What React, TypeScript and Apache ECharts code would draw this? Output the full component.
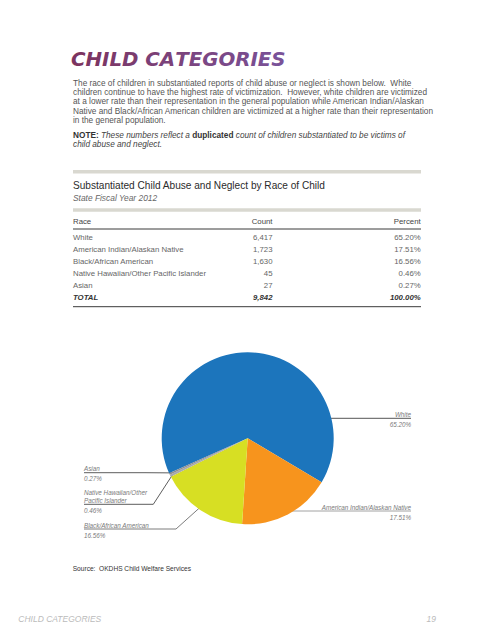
import React, { useEffect, useRef } from "react";
import * as echarts from "echarts";

// ---------- data ----------
const races = [
  "White",
  "American Indian/Alaskan Native",
  "Black/African American",
  "Native Hawaiian/Other Pacific Islander",
  "Asian",
];
const counts = [6417, 1723, 1630, 45, 27];
const percents = [65.2, 17.51, 16.56, 0.46, 0.27];
const totalCount = 9842;
const totalPercent = 100.0;
const pieLabelNames = [
  ["White"],
  ["American Indian/Alaskan Native"],
  ["Black/African American"],
  ["Native Hawaiian/Other", "Pacific Islander"],
  ["Asian"],
];
const sliceColors = ["#1C75BC", "#F7941D", "#D7DF23", "#A7A9AC", "#8C8E90"];

const titleText = "CHILD CATEGORIES";
const paragraphLines = [
  "The race of children in substantiated reports of child abuse or neglect is shown below.  White",
  "children continue to have the highest rate of victimization.  However, white children are victimized",
  "at a lower rate than their representation in the general population while American Indian/Alaskan",
  "Native and Black/African American children are victimized at a higher rate than their representation",
  "in the general population.",
];

// ---------- layout / style ----------
const FONT = "'Liberation Sans', Arial, Helvetica, sans-serif";
const CX = 247.7;
const CY = 438.3;
const R = 86;
const START_ANGLE = 204;
const LEFT_X = 84;
const RIGHT_X = 411;

// label placement per slice (annotation layout only)
const labelCfg = [
  { side: "right", lineY: 418.3, anchorDeg: 74.4, anchorR: 0.864, color: "#2a2a2a" },
  { side: "right", lineY: 511, anchorDeg: 156, anchorR: 0.925, color: "#8a8a8a" },
  { side: "left", lineY: 529, bendX: 176, anchorDeg: 211.7, anchorR: 0.806, color: "#5a5a5a" },
  { side: "left", lineY: 504.3, bendX: 153.3, anchorDeg: null, anchorR: 0.97, color: "#333333" },
  { side: "left", lineY: 472.7, bendX: 145, anchorDeg: null, anchorR: 0.97, color: "#333333" },
];

const NAME_LH = 8;
const PCT_LH = 12;

function fmtCount(v: number) {
  return v.toLocaleString("en-US");
}
function fmtPct(v: number) {
  return v.toFixed(2) + "%";
}

function sliceMidCompass(i: number) {
  const total = counts.reduce((a, b) => a + b, 0);
  let cum = 0;
  for (let k = 0; k < i; k++) cum += counts[k];
  const mid = cum + counts[i] / 2;
  const mathDeg = START_ANGLE - (mid / total) * 360;
  return 90 - mathDeg;
}

function polar(compassDeg: number, rf: number) {
  const a = (compassDeg * Math.PI) / 180;
  return [CX + Math.sin(a) * R * rf, CY - Math.cos(a) * R * rf];
}

function mix(c1: number[], c2: number[], t: number) {
  const c = c1.map((v, k) => Math.round(v + (c2[k] - v) * t));
  return "rgb(" + c.join(",") + ")";
}

export default function App() {
  const ref = useRef<HTMLDivElement>(null);

  useEffect(() => {
    if (!ref.current) return;
    const chart = echarts.init(ref.current, undefined, { renderer: "svg" });

    const graphics: any[] = [];
    const txt = (x: number, y: number, text: string, s: any) =>
      graphics.push({
        type: "text",
        x,
        y,
        silent: true,
        style: {
          text,
          fontFamily: FONT,
          fontSize: 7.5,
          fill: "#555",
          align: "left",
          verticalAlign: "middle",
          ...s,
        },
      });

    // title: per-character colour ramp (left plum -> right purple)
    const titleRich: any = {};
    const chars = titleText.split("");
    const tokens = chars.map((ch, k) => {
      const key = "t" + k;
      titleRich[key] = {
        fontFamily: "'DejaVu Sans', sans-serif",
        fontWeight: "bold",
        fontStyle: "italic",
        fontSize: 19.8,
        fill: mix([124, 52, 96], [122, 82, 152], k / (chars.length - 1)),
      };
      return "{" + key + "|" + ch + "}";
    });
    txt(71, 59.7, tokens.join(""), { rich: titleRich, fontSize: 19.8 });

    // paragraph
    const pFont = 8.25;
    const paraY = [83.3, 92.6, 101.9, 111.1, 120.4];
    paragraphLines.forEach((l, i) => txt(73, paraY[i], l, { fill: "#555", fontSize: pFont }));

    // note
    const noteRich = {
      b: { fontFamily: FONT, fontSize: pFont, fontWeight: "bold", fill: "#333" },
      i: { fontFamily: FONT, fontSize: pFont, fontStyle: "italic", fill: "#444" },
    };
    txt(
      73,
      135,
      "{b|NOTE: }{i|These numbers reflect a }{b|duplicated }{i|count of children substantiated to be victims of}",
      { rich: noteRich, fontSize: pFont }
    );
    txt(73, 144.3, "{i|child abuse and neglect.}", { rich: noteRich, fontSize: pFont });

    // table frame
    const barColor = "#d9d8d0";
    graphics.push({ type: "rect", silent: true, shape: { x: 73, y: 170, width: 348, height: 3.5 }, style: { fill: barColor } });
    graphics.push({ type: "rect", silent: true, shape: { x: 73, y: 208.3, width: 348, height: 3.5 }, style: { fill: barColor } });
    graphics.push({ type: "line", silent: true, shape: { x1: 73, y1: 229, x2: 421, y2: 229 }, style: { stroke: "#3a3a3a", lineWidth: 1 } });
    graphics.push({ type: "line", silent: true, shape: { x1: 73, y1: 306.7, x2: 421, y2: 306.7 }, style: { stroke: "#3a3a3a", lineWidth: 1 } });

    txt(73, 185, "Substantiated Child Abuse and Neglect by Race of Child", { fontSize: 10.1, fill: "#2b2b2b" });
    txt(73, 198.3, "State Fiscal Year 2012", { fontSize: 8.4, fontStyle: "italic", fill: "#666" });

    const COL_RACE = 73;
    const COL_COUNT = 272.5;
    const COL_PCT = 420.7;
    const tFont = 7.8;
    txt(COL_RACE, 221, "Race", { fontSize: tFont, fill: "#444" });
    txt(COL_COUNT, 221, "Count", { fontSize: tFont, fill: "#444", align: "right" });
    txt(COL_PCT, 221, "Percent", { fontSize: tFont, fill: "#444", align: "right" });

    const rowY0 = 237;
    const rowStep = 12.06;
    races.forEach((r, i) => {
      const y = rowY0 + i * rowStep;
      txt(COL_RACE, y, r, { fontSize: tFont, fill: "#666" });
      txt(COL_COUNT, y, fmtCount(counts[i]), { fontSize: tFont, fill: "#666", align: "right" });
      txt(COL_PCT, y, fmtPct(percents[i]), { fontSize: tFont, fill: "#666", align: "right" });
    });
    const totY = rowY0 + races.length * rowStep;
    const totStyle = { fontSize: tFont, fill: "#333", fontStyle: "italic", fontWeight: "bold" };
    txt(COL_RACE, totY, "TOTAL", totStyle);
    txt(COL_COUNT, totY, fmtCount(totalCount), { ...totStyle, align: "right" });
    txt(COL_PCT, totY, fmtPct(totalPercent), { ...totStyle, align: "right" });

    // source & footer
    txt(72.7, 568.3, "Source:  OKDHS Child Welfare Services", { fontSize: 6.6, fill: "#333" });
    txt(18.3, 618.7, "CHILD CATEGORIES", { fontSize: 8.5, fontStyle: "italic", fill: "#bbbbbb" });
    txt(436, 618.7, "19", { fontSize: 8.5, fontStyle: "italic", fill: "#bbbbbb", align: "right" });

    const labelBase = { fontFamily: FONT, fontSize: 6.3, fontStyle: "italic", color: "#7a7a7a" };

    const option: any = {
      animation: false,
      backgroundColor: "#ffffff",
      graphic: { elements: graphics },
      series: [
        {
          type: "pie",
          center: [CX, CY],
          radius: R,
          startAngle: START_ANGLE,
          clockwise: true,
          silent: true,
          avoidLabelOverlap: false,
          emphasis: { disabled: true },
          data: races.map((r, i) => ({
            name: r,
            value: counts[i],
            itemStyle: { color: sliceColors[i], borderWidth: 0 },
            labelLine: { lineStyle: { color: labelCfg[i].color } },
          })),
          label: {
            show: true,
            position: "outside",
            formatter: (p: any) => {
              const i = p.dataIndex;
              const names = pieLabelNames[i].map((n) => "{n|" + n + "}").join("\n");
              return names + "\n{p|" + fmtPct(percents[i]) + "}";
            },
            rich: {
              n: { ...labelBase, lineHeight: NAME_LH },
              p: { ...labelBase, lineHeight: PCT_LH },
            },
          },
          labelLine: { show: true, length: 5, length2: 5, smooth: false, lineStyle: { width: 0.8 } },
          labelLayout: (params: any) => {
            const i = params.dataIndex;
            const c = labelCfg[i];
            const deg = c.anchorDeg != null ? c.anchorDeg : sliceMidCompass(i);
            const a = polar(deg, c.anchorR);
            const nAbove = pieLabelNames[i].length;
            const y = c.lineY - nAbove * NAME_LH;
            if (c.side === "right") {
              return {
                x: RIGHT_X,
                y,
                align: "right",
                verticalAlign: "top",
                labelLinePoints: [a, [a[0], c.lineY], [RIGHT_X, c.lineY]],
              };
            }
            return {
              x: LEFT_X,
              y,
              align: "left",
              verticalAlign: "top",
              labelLinePoints: [a, [c.bendX as number, c.lineY], [LEFT_X, c.lineY]],
            };
          },
        },
      ],
    };

    chart.setOption(option);
    return () => chart.dispose();
  }, []);

  return (
    <div
      ref={ref}
      style={{ position: "absolute", left: 0, top: 0, width: 495, height: 640, background: "#fff" }}
    />
  );
}
